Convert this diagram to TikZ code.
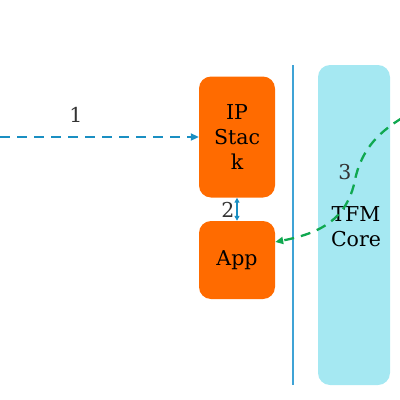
\documentclass[tikz,border=0pt]{standalone}
\usepackage{fontspec}
\setmainfont{DejaVu Serif}
\usetikzlibrary{arrows.meta}
\definecolor{boxorange}{HTML}{FF6B00}
\definecolor{corecyan}{HTML}{A5E8F2}
\definecolor{linkblue}{HTML}{1A8FC2}
\definecolor{flowgreen}{HTML}{10A850}
\definecolor{labelgray}{HTML}{333333}
\definecolor{sepblue}{HTML}{3FA3D6}
\tikzset{
  box/.style={rounded corners=12pt, inner sep=0pt, align=center,
    font=\fontsize{20.5}{25}\selectfont, text=black},
  lbl/.style={font=\fontsize{20.5}{24}\selectfont, text=labelgray, inner sep=0pt},
  bluelink/.style={draw=linkblue, line width=2pt, dash pattern=on 10pt off 7pt,
    -{Triangle[length=8pt,width=7pt]}},
  greenlink/.style={draw=flowgreen, line width=2.3pt, dash pattern=on 10pt off 7pt,
    -{Triangle[length=8pt,width=7pt]}},
  dbl/.style={draw=linkblue, line width=1.4pt,
    {Triangle[length=5pt,width=5pt]}-{Triangle[length=5pt,width=5pt]}}
}
\begin{document}
\begin{tikzpicture}[x=1pt,y=-1pt]
\useasboundingbox (0,0) rectangle (400,400);
\node[box, fill=boxorange, minimum width=76pt, minimum height=121pt] (ip) at (237,137) {IP\\Stac\\k};
\node[box, fill=boxorange, minimum width=76pt, minimum height=78pt] (app) at (237,260) {App};
\node[box, fill=corecyan, minimum width=72pt, minimum height=320pt] (core) at (354,225) {};
\node[box] (coretext) at (356,227) {TFM\\Core};
\coordinate (septop) at (293,65);
\coordinate (sepbot) at (293,385);
\draw[sepblue, line width=1.2pt] (septop) -- (sepbot);
\coordinate (src) at (0,137);
\draw[bluelink] (src) -- (ip.west |- src);
\node[lbl] (l1) at (76,115) {1};
\draw[dbl] (ip.south) -- (app.north);
\node[lbl] (l2) at (228,210) {2};
\coordinate (gsrc) at (402,118);
\coordinate (gmid) at (355,180);
\draw[greenlink] (gsrc) .. controls (383,130) and (362,146) .. (gmid)
  .. controls (347,219) and (321,233) .. (app.east |- 0,242);
\node[lbl] (l3) at (345,172) {3};
\end{tikzpicture}
\end{document}
